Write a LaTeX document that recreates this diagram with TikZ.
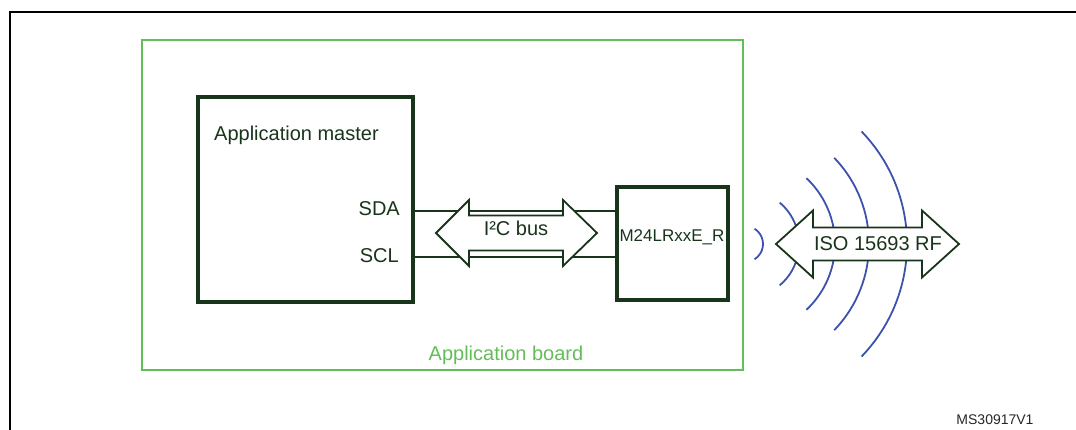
\documentclass[tikz,border=0pt]{standalone}
\usepackage{fontspec}
\setmainfont{Liberation Sans}
\usetikzlibrary{calc}
\definecolor{chipgreen}{RGB}{24,52,26}
\definecolor{boardgreen}{RGB}{98,190,86}
\definecolor{waveblue}{RGB}{60,82,172}

\begin{document}
\begin{tikzpicture}[x=1pt,y=-1pt,
    chip/.style={draw=chipgreen, line width=3.6pt, inner sep=0pt},
    pinlabel/.style={font=\fontsize{20}{24}\selectfont, text=chipgreen, inner sep=0pt},
    wire/.style={draw=chipgreen, line width=1.4pt},
    busarrow/.style={draw=chipgreen, fill=white, line width=1.8pt, line join=miter},
    wave/.style={draw=waveblue, line width=1.8pt}]
    \useasboundingbox (0,0) rectangle (1076,430);
    \clip (0,0) rectangle (1076,430);
    \draw [line width=2.2pt] (1100,12) -- (10,12) -- (10,450);% Figure frame
    \draw [boardgreen, line width=1.8pt] (142,40) rectangle (743,370);% Board outline
    \node [pinlabel, text=boardgreen] (boardtxt) at (506,355) {Application board};
    % Master and tag chips
    \node [chip, minimum width=215, minimum height=205] (master) at (305.5,199.5) {};
    \node [pinlabel, anchor=west] (mastertxt) at (214,135) {Application master};
    \node [pinlabel, anchor=east] (sda) at (400,209) {SDA};
    \node [pinlabel, anchor=east] (scl) at (399,256) {SCL};
    \node [chip, minimum width=111, minimum height=113] (tag) at (672.5,243.5) {};
    \node [pinlabel, font=\fontsize{17}{20}\selectfont] (tagtxt) at (672,237) {M24LRxxE\_R};
    \draw [wire] (master.east |- 0,211) -- (tag.west |- 0,211);% SDA line
    \draw [wire] (master.east |- 0,257) -- (tag.west |- 0,257);% SCL line
    \filldraw [busarrow] (436,233) -- (469,200) -- (469,215.5) -- (563,215.5)
        -- (563,200) -- (597,233) -- (563,266) -- (563,250.5) -- (469,250.5)
        -- (469,266) -- cycle;
    \node [pinlabel] (bustxt) at (516,228) {I²C bus};
    % Radio waves around the tag
    \coordinate (wc) at (745,244);
    \foreach \r/\a in {18/58,54/50,90/47,124/44,162/44}{% radius / half angle
      \draw [wave] (wc) ++(-\a:\r) arc [start angle=-\a, end angle=\a, radius=\r];}
    \filldraw [busarrow] (776,244) -- (813,210.5) -- (813,227.5) -- (922,227.5)
        -- (922,210.5) -- (959,244) -- (922,277.5) -- (922,260.5) -- (813,260.5)
        -- (813,277.5) -- cycle;
    \node [pinlabel] (rftxt) at (878,244) {ISO 15693 RF};
    \node [font=\fontsize{14}{17}\selectfont, text=black!85, inner sep=0pt] (refid) at (995,420) {MS30917V1};
  \end{tikzpicture}
\end{document}
